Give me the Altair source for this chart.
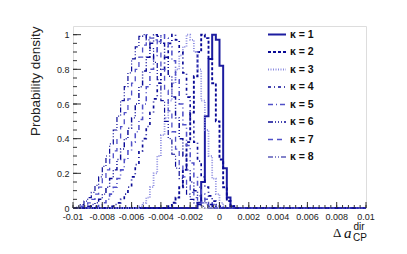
import altair as alt
import pandas as pd
import numpy as np

# ---------------- data ----------------
X_MIN, X_MAX = -0.01, 0.01
BIN_WIDTH = 0.00025

series = ["κ = 1", "κ = 2", "κ = 3", "κ = 4", "κ = 5", "κ = 6", "κ = 7", "κ = 8"]
# left edge of first non-empty bin for each series
starts = [-0.0015, -0.0035, -0.0055, -0.0075, -0.0085, -0.009, -0.0095, -0.00975]

k1 = [0.03, 0.15, 0.53, 0.86, 1.0, 0.97, 0.82, 0.23, 0.06, 0.01]
k2 = [0.01, 0.03, 0.06, 0.12, 0.22, 0.38, 0.55, 0.76, 0.9, 1.0, 0.98, 0.86,
      0.72, 0.5, 0.28, 0.12, 0.04, 0.01]
k3 = [0.01, 0.03, 0.06, 0.12, 0.2, 0.3, 0.42, 0.52, 0.62, 0.72, 0.8, 0.88,
      0.93, 1.0, 0.97, 0.9, 0.8, 0.62, 0.45, 0.3, 0.17, 0.08, 0.03, 0.01]
k4 = [0.01, 0.02, 0.03, 0.05, 0.08, 0.12, 0.18, 0.25, 0.33, 0.4, 0.47, 0.55,
      0.63, 0.72, 0.8, 0.87, 0.95, 1.0, 0.97, 0.9, 0.78, 0.64, 0.5, 0.38,
      0.27, 0.18, 0.12, 0.07, 0.04, 0.02, 0.01]
k5 = [0.01, 0.02, 0.03, 0.05, 0.08, 0.12, 0.17, 0.22, 0.28, 0.33, 0.38, 0.44,
      0.51, 0.6, 0.7, 0.8, 0.88, 0.96, 1.0, 0.98, 0.93, 0.85, 0.74, 0.6,
      0.48, 0.36, 0.26, 0.18, 0.12, 0.08, 0.05, 0.03, 0.02, 0.01]
k6 = [0.01, 0.02, 0.03, 0.05, 0.08, 0.12, 0.17, 0.22, 0.28, 0.34, 0.4, 0.46,
      0.52, 0.6, 0.7, 0.79, 0.87, 0.95, 1.0, 0.99, 0.95, 0.87, 0.76, 0.64,
      0.52, 0.4, 0.3, 0.22, 0.15, 0.1, 0.07, 0.04, 0.03, 0.02, 0.01]
k7 = [0.01, 0.02, 0.03, 0.05, 0.08, 0.12, 0.17, 0.22, 0.28, 0.33, 0.4, 0.47,
      0.55, 0.63, 0.72, 0.8, 0.87, 0.94, 1.0, 0.98, 0.97, 0.9, 0.8, 0.68,
      0.56, 0.44, 0.34, 0.25, 0.18, 0.13, 0.09, 0.06, 0.04, 0.03, 0.02, 0.01]
k8 = [0.01, 0.02, 0.04, 0.06, 0.09, 0.13, 0.18, 0.24, 0.3, 0.37, 0.45, 0.53,
      0.62, 0.7, 0.78, 0.86, 0.93, 0.99, 1.0, 0.97, 0.92, 0.84, 0.74, 0.62,
      0.5, 0.4, 0.31, 0.23, 0.17, 0.12, 0.08, 0.05, 0.03, 0.02, 0.01]
values = [k1, k2, k3, k4, k5, k6, k7, k8]

x_major = [-0.01, -0.008, -0.006, -0.004, -0.002, 0.0, 0.002, 0.004, 0.006, 0.008, 0.01]
x_labels = ["-0.01", "-0.008", "-0.006", "-0.004", "-0.002", "0",
            "0.002", "0.004", "0.006", "0.008", "0.01"]
y_major = [0.0, 0.2, 0.4, 0.6, 0.8, 1.0]

# ---------------- styles ----------------
colors = ["#1c1ca0", "#0a0a96", "#8a8ae0", "#0a0a96", "#5050c8", "#0a0a96", "#5050c8", "#0a0a96"]
dashes = [[1, 0], [3, 2], [1, 1.5], [3, 3, 1, 3], [5, 3, 1, 3],
          [5, 2, 1, 2, 1, 2, 1, 2], [5, 4], [5, 2, 1, 2, 1, 2]]
widths = [2.0, 1.2, 1.2, 1.2, 1.2, 1.2, 1.2, 1.2]

W, H = 293, 182

# build histogram table (step-after on bin edges)
nbins = int(round((X_MAX - X_MIN) / BIN_WIDTH))
rows = []
for name, st, vals in zip(series, starts, values):
    s_idx = int(round((st - X_MIN) / BIN_WIDTH))
    for k in range(nbins):
        j = k - s_idx
        v = vals[j] if 0 <= j < len(vals) else 0.0
        rows.append({"series": name, "x": round(X_MIN + k * BIN_WIDTH, 6), "y": v})
    rows.append({"series": name, "x": X_MAX, "y": 0.0})
df = pd.DataFrame(rows)

x_minor = [round(v, 6) for v in np.arange(-0.01, 0.01 + 1e-9, 0.0004)]
y_minor = [round(v, 4) for v in np.arange(0, 1.05, 0.05)]

xscale = alt.Scale(domain=[X_MIN, X_MAX], nice=False, zero=False)
yscale = alt.Scale(domain=[0, 1.05], nice=False, zero=True)

color_enc = alt.Color("series:N", scale=alt.Scale(domain=series, range=colors), legend=None)
dash_enc = alt.StrokeDash("series:N", scale=alt.Scale(domain=series, range=dashes), legend=None)
width_enc = alt.StrokeWidth("series:N", scale=alt.Scale(domain=series, range=widths), legend=None)

hist = alt.Chart(df).mark_line(interpolate="step-after").encode(
    x=alt.X("x:Q", scale=xscale, axis=None),
    y=alt.Y("y:Q", scale=yscale,
            axis=alt.Axis(values=y_major, ticks=False, domain=False, grid=False,
                          labelExpr="format(datum.value, '~g')",
                          labelFontSize=9, labelPadding=4, labelColor="#222",
                          labelFont="Liberation Sans",
                          title="Probability density", titleFontSize=13.5,
                          titleFont="Liberation Sans", titleFontWeight="normal",
                          titleColor="#222", titleAngle=270, titleAlign="right",
                          titleBaseline="middle", titleX=-38, titleY=0)),
    color=color_enc,
    strokeDash=dash_enc,
    strokeWidth=width_enc,
)

xt_major = alt.Chart(pd.DataFrame({"x": x_major})).mark_rule(color="#333", strokeWidth=1).encode(
    x=alt.X("x:Q", scale=xscale, axis=None), y=alt.value(H), y2=alt.value(H - 6))
xt_minor = alt.Chart(pd.DataFrame({"x": x_minor})).mark_rule(color="#333", strokeWidth=1).encode(
    x=alt.X("x:Q", scale=xscale, axis=None), y=alt.value(H), y2=alt.value(H - 3))
yt_major = alt.Chart(pd.DataFrame({"y": y_major})).mark_rule(color="#333", strokeWidth=1).encode(
    y=alt.Y("y:Q", scale=yscale, axis=None), x=alt.value(0), x2=alt.value(8))
yt_minor = alt.Chart(pd.DataFrame({"y": y_minor})).mark_rule(color="#333", strokeWidth=1).encode(
    y=alt.Y("y:Q", scale=yscale, axis=None), x=alt.value(0), x2=alt.value(4))

# x tick labels as text through the x scale
xl = alt.Chart(pd.DataFrame({"x": x_major, "lab": x_labels})).mark_text(
    baseline="top", align="center", fontSize=9, font="Liberation Sans", color="#222").encode(
    x=alt.X("x:Q", scale=xscale, axis=None), y=alt.value(H + 5), text="lab:N")

# legend (manual)
leg_df = pd.DataFrame({"series": series, "pos": list(range(1, len(series) + 1))})
leg_y = alt.Y("pos:Q", scale=alt.Scale(domain=[1, len(series)], range=[8.5, 131]), axis=None)
leg_lines = alt.Chart(leg_df).mark_rule().encode(
    x=alt.value(195), x2=alt.value(213), y=leg_y,
    color=color_enc, strokeDash=dash_enc, strokeWidth=width_enc)
leg_text = alt.Chart(leg_df).mark_text(align="left", baseline="middle", fontSize=10.5,
                                       fontWeight="bold", font="Liberation Sans",
                                       color="#111").encode(
    x=alt.value(217), y=leg_y, text="series:N")

# x-axis title: Δ a_CP^dir
t_delta = alt.Chart().mark_text(text="Δ", align="left", baseline="alphabetic", fontSize=13,
                                font="Liberation Serif", color="#111").encode(
    x=alt.value(260), y=alt.value(211))
t_a = alt.Chart().mark_text(text="a", align="left", baseline="alphabetic", fontSize=15,
                            fontStyle="italic", font="Liberation Serif", color="#111").encode(
    x=alt.value(271), y=alt.value(212))
t_sup = alt.Chart().mark_text(text="dir", align="left", baseline="alphabetic", fontSize=10,
                              font="Liberation Sans", color="#111").encode(
    x=alt.value(280.5), y=alt.value(204))
t_sub = alt.Chart().mark_text(text="CP", align="left", baseline="alphabetic", fontSize=10,
                              font="Liberation Sans", color="#111").encode(
    x=alt.value(280), y=alt.value(215))

chart = alt.layer(
    hist, xt_minor, xt_major, yt_minor, yt_major, xl, leg_lines, leg_text,
    t_delta, t_a, t_sup, t_sub
).resolve_scale(y="independent").properties(
    width=W, height=H,
    autosize=alt.AutoSizeParams(type="none"),
    padding={"left": 65, "top": 18, "right": 25, "bottom": 38},
).configure_view(stroke="#333", strokeWidth=1).configure(background="white")

chart.save("out.html", embed_options={"renderer": "svg", "actions": False})
